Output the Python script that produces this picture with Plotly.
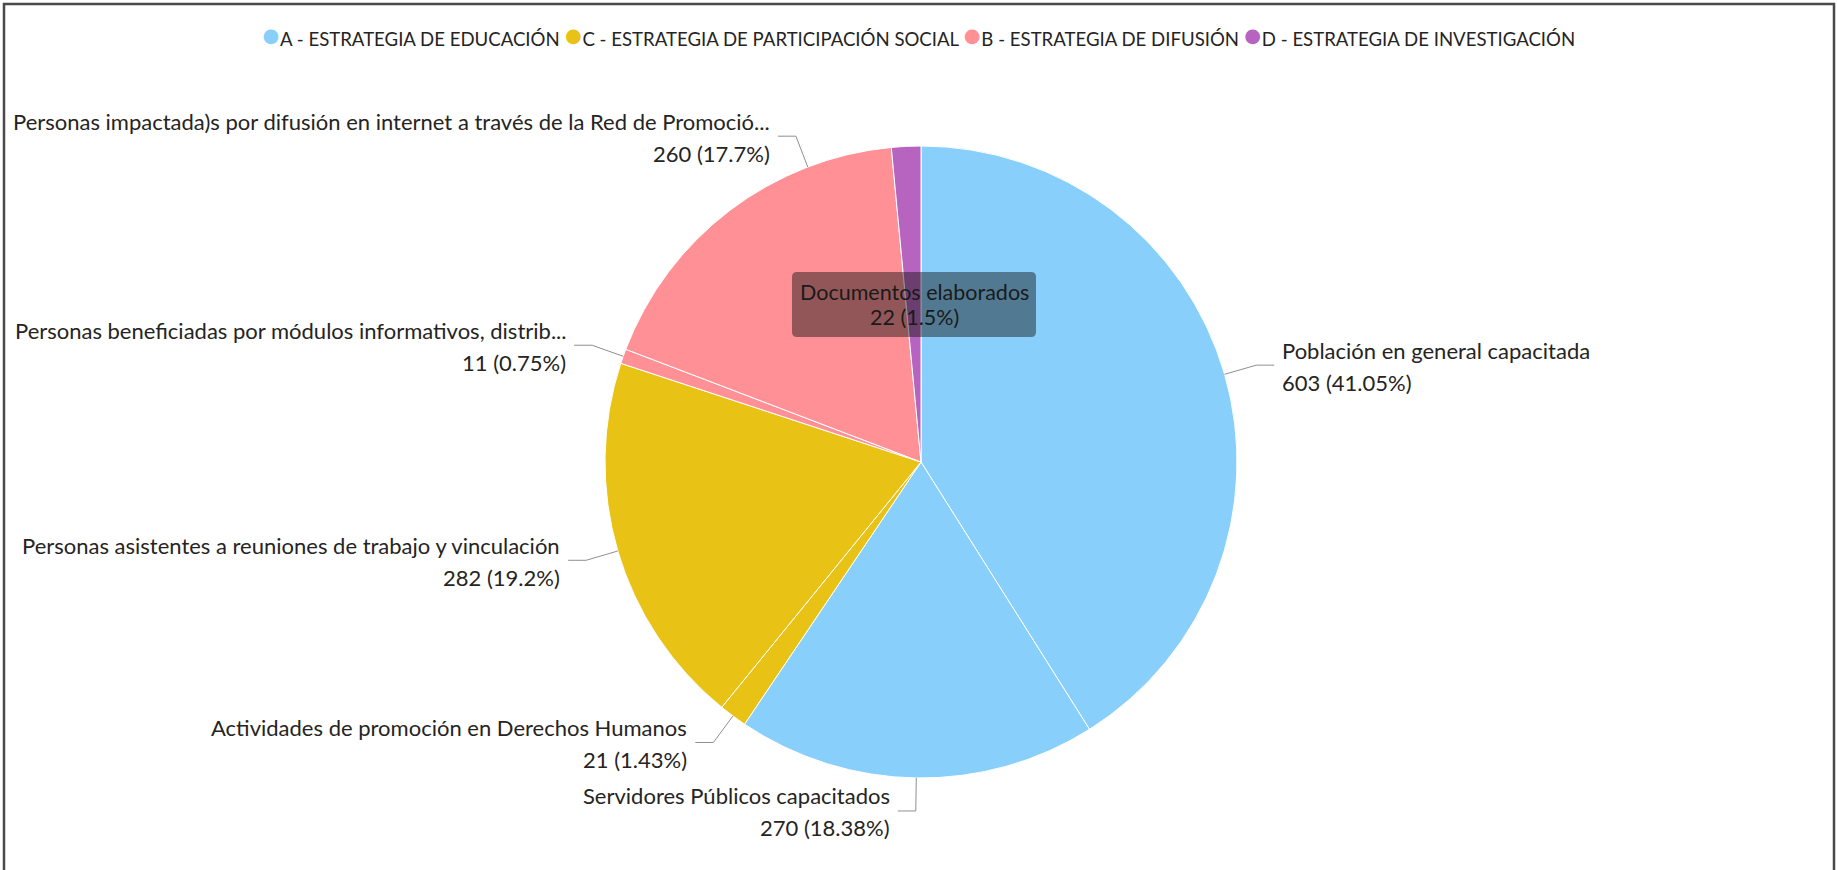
import math
import plotly.graph_objects as go

# ---------------- data ----------------
labels = [
    "Población en general capacitada",
    "Servidores Públicos capacitados",
    "Actividades de promoción en Derechos Humanos",
    "Personas asistentes a reuniones de trabajo y vinculación",
    "Personas beneficiadas por módulos informativos, distrib...",
    "Personas impactada)s por difusión en internet a través de la Red de Promoció...",
    "Documentos elaborados",
]
values = [603, 270, 21, 282, 11, 260, 22]
slice_category = ["A", "A", "C", "C", "B", "B", "D"]

legend_keys = ["A", "C", "B", "D"]
legend_names = [
    "A - ESTRATEGIA DE EDUCACIÓN",
    "C - ESTRATEGIA DE PARTICIPACIÓN SOCIAL",
    "B - ESTRATEGIA DE DIFUSIÓN",
    "D - ESTRATEGIA DE INVESTIGACIÓN",
]
category_colors = {"A": "#88CFFC", "C": "#E9C216", "B": "#FE9096", "D": "#B664BF"}

# ---------------- layout constants ----------------
W, H = 1837, 870
CX, CY, R = 921, 462, 316          # pie centre / radius in pixels
FONT = "Lato, 'Open Sans', sans-serif"
TXT = "#252423"
LABEL_SIZE = 22
LINE_HALF = 16                      # half of the two-line label spacing
LEAD1, LEAD2 = 33, 18               # leader radial / horizontal length
tooltip_slice = 6                   # slice shown with the hover box instead of a label
label_angle_override = {5: 339.0}   # label moved to avoid clipping (degrees from top)


def px(x):
    return x / W


def py(y):
    return 1 - y / H


def fmt_pct(p):
    s = f"{p:.2f}".rstrip("0").rstrip(".")
    return s + "%"


total = sum(values)
colors = [category_colors[c] for c in slice_category]

fig = go.Figure()
fig.add_trace(go.Pie(
    labels=labels,
    values=values,
    sort=False,
    direction="clockwise",
    rotation=0,
    marker=dict(colors=colors, line=dict(color="white", width=1)),
    textinfo="none",
    hoverinfo="skip",
    showlegend=False,
    domain=dict(x=[px(CX - R), px(CX + R)], y=[py(CY + R), py(CY - R)]),
))

annotations = []
shapes = []

# outside labels with leader lines (angles from cumulative values)
cum = 0
for i, (lab, v) in enumerate(zip(labels, values)):
    mid = (cum + v / 2) / total
    cum += v
    if i == tooltip_slice:
        continue
    deg = label_angle_override.get(i, mid * 360)
    t = math.radians(deg)
    sx, cy_ = math.sin(t), math.cos(t)
    ex, ey = CX + R * sx, CY - R * cy_
    bx, by = CX + (R + LEAD1) * sx, CY - (R + LEAD1) * cy_
    side = 1 if sx > 0 else -1
    hx = bx + side * LEAD2
    shapes.append(dict(
        type="path", xref="paper", yref="paper",
        path=f"M {px(ex)},{py(ey)} L {px(bx)},{py(by)} L {px(hx)},{py(by)}",
        line=dict(color="#8f8f8f", width=1),
    ))
    lines = [lab, f"{v} ({fmt_pct(v / total * 100)})"]
    for j, line_text in enumerate(lines):
        annotations.append(dict(
            xref="paper", yref="paper",
            x=px(hx + side * 6), y=py(by + 1 + (2 * j - 1) * LINE_HALF),
            xanchor="left" if side > 0 else "right", yanchor="middle",
            align="left" if side > 0 else "right",
            text=line_text,
            showarrow=False,
            font=dict(family=FONT, size=LABEL_SIZE, color=TXT),
        ))

# hover-style box for the small purple slice
bx0, bx1, by0, by1, rr = 792, 1036, 272, 337, 5
shapes.append(dict(
    type="path", xref="paper", yref="paper",
    path=(f"M {px(bx0 + rr)},{py(by0)} L {px(bx1 - rr)},{py(by0)} "
          f"Q {px(bx1)},{py(by0)} {px(bx1)},{py(by0 + rr)} L {px(bx1)},{py(by1 - rr)} "
          f"Q {px(bx1)},{py(by1)} {px(bx1 - rr)},{py(by1)} L {px(bx0 + rr)},{py(by1)} "
          f"Q {px(bx0)},{py(by1)} {px(bx0)},{py(by1 - rr)} L {px(bx0)},{py(by0 + rr)} "
          f"Q {px(bx0)},{py(by0)} {px(bx0 + rr)},{py(by0)} Z"),
    fillcolor="rgba(15,15,15,0.45)", line=dict(width=0),
))
tv = values[tooltip_slice]
tip_lines = [labels[tooltip_slice], f"{tv} ({fmt_pct(tv / total * 100)})"]
for j, line_text in enumerate(tip_lines):
    annotations.append(dict(
        xref="paper", yref="paper", x=px((bx0 + bx1) / 2),
        y=py((by0 + by1) / 2 + (2 * j - 1) * 12.5),
        xanchor="center", yanchor="middle", align="center", showarrow=False,
        text=line_text,
        font=dict(family=FONT, size=21.5, color="#1a1a1a"),
    ))

# legend row
parts = []
for k, name in zip(legend_keys, legend_names):
    parts.append(
        f"<span style='color:{category_colors[k]};font-size:30px'>●</span>{name}"
    )
annotations.append(dict(
    xref="paper", yref="paper", x=0.5, y=py(34),
    xanchor="center", yanchor="middle", showarrow=False,
    text=" ".join(parts),
    font=dict(family=FONT, size=18.6, color=TXT),
))

# outer frame
shapes.append(dict(
    type="rect", xref="paper", yref="paper",
    x0=px(4), x1=px(1834), y0=py(873), y1=py(4),
    line=dict(color="#4a4a4a", width=2.5), fillcolor="rgba(0,0,0,0)",
))

fig.update_layout(
    width=W, height=H,
    margin=dict(l=0, r=0, t=0, b=0),
    paper_bgcolor="white", plot_bgcolor="white",
    showlegend=False,
    annotations=annotations,
    shapes=shapes,
    font=dict(family=FONT, color=TXT),
)

fig.write_html(
    "out.html",
    config={"displayModeBar": False},
    post_script="document.body.style.margin='0';document.body.style.overflow='hidden';",
)
